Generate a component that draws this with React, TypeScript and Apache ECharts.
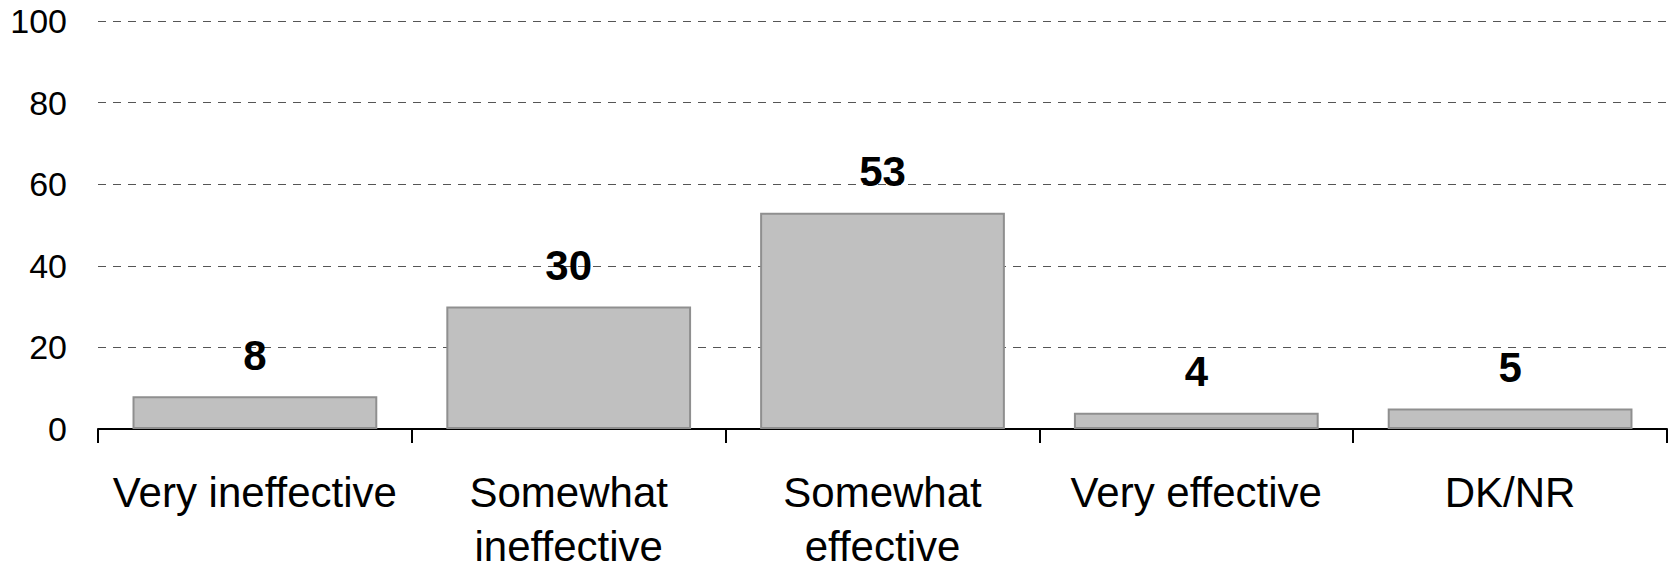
import React, { useEffect, useRef } from "react";
import * as echarts from "echarts";

const categories = ["Very ineffective", "Somewhat\nineffective", "Somewhat\neffective", "Very effective", "DK/NR"];
const values = [8, 30, 53, 4, 5];
const yTicks = { min: 0, max: 100, interval: 20 };

const FONT = "'Liberation Sans', Arial, sans-serif";

export default function App() {
  const ref = useRef<HTMLDivElement>(null);
  useEffect(() => {
    document.body.style.margin = "0";
    const chart = echarts.init(ref.current!, null, { renderer: "svg" });
    chart.setOption({
      animation: false,
      grid: { left: 98, right: 2, top: 21, bottom: 140, containLabel: false },
      xAxis: {
        type: "category",
        data: categories,
        axisLine: { lineStyle: { color: "#000", width: 2 } },
        axisTick: { show: true, length: 14, lineStyle: { color: "#000", width: 2 } },
        axisLabel: {
          color: "#000",
          fontSize: 42,
          fontFamily: FONT,
          lineHeight: 54,
          margin: 36,
          interval: 0,
        },
      },
      yAxis: {
        type: "value",
        min: yTicks.min,
        max: yTicks.max,
        interval: yTicks.interval,
        axisLine: { show: false },
        axisTick: { show: false },
        axisLabel: { color: "#000", fontSize: 34, fontFamily: FONT, margin: 31 },
        splitLine: {
          lineStyle: {
            color: "#555",
            type: [8, 7],
            width: 1,
          },
        },
      },
      series: [
        {
          type: "bar",
          data: values,
          barCategoryGap: "22%",
          itemStyle: { color: "#c0c0c0", borderColor: "#8f8f8f", borderWidth: 2 },
          label: {
            show: true,
            position: "top",
            distance: 20,
            color: "#000",
            fontSize: 42,
            fontWeight: "bold",
            fontFamily: FONT,
          },
        },
      ],
    });
    return () => chart.dispose();
  }, []);
  return <div ref={ref} style={{ width: 1669, height: 573 }} />;
}
